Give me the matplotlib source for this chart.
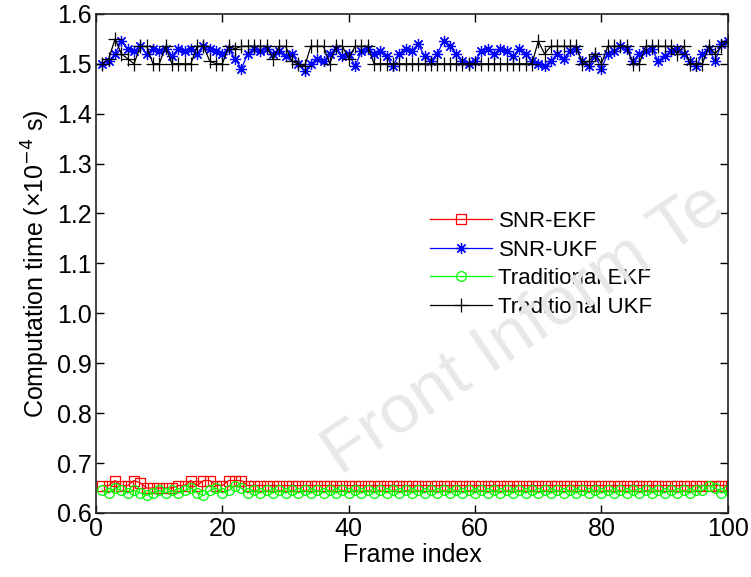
import matplotlib
matplotlib.use("Agg")
import matplotlib.pyplot as plt

plt.rcParams["font.family"] = ["Liberation Sans", "DejaVu Sans"]

frames = list(range(1, 101))

snr_ekf = [0.655, 0.655, 0.665, 0.655, 0.655, 0.665, 0.660, 0.650, 0.650, 0.650,
           0.650, 0.650, 0.655, 0.655, 0.665, 0.655, 0.665, 0.665, 0.655, 0.655,
           0.665, 0.665, 0.665, 0.655, 0.655, 0.655, 0.655, 0.655, 0.655, 0.655,
           0.655, 0.655, 0.655, 0.655, 0.655, 0.655, 0.655, 0.655, 0.655, 0.655,
           0.655, 0.655, 0.655, 0.655, 0.655, 0.655, 0.655, 0.655, 0.655, 0.655,
           0.655, 0.655, 0.655, 0.655, 0.655, 0.655, 0.655, 0.655, 0.655, 0.655,
           0.655, 0.655, 0.655, 0.655, 0.655, 0.655, 0.655, 0.655, 0.655, 0.655,
           0.655, 0.655, 0.655, 0.655, 0.655, 0.655, 0.655, 0.655, 0.655, 0.655,
           0.655, 0.655, 0.655, 0.655, 0.655, 0.655, 0.655, 0.655, 0.655, 0.655,
           0.655, 0.655, 0.655, 0.655, 0.655, 0.655, 0.655, 0.655, 0.655, 0.655]

snr_ukf = [1.500, 1.505, 1.520, 1.545, 1.530, 1.525, 1.535, 1.520, 1.530, 1.525,
           1.530, 1.515, 1.530, 1.525, 1.530, 1.520, 1.535, 1.530, 1.525, 1.520,
           1.530, 1.510, 1.490, 1.520, 1.530, 1.525, 1.530, 1.520, 1.525, 1.515,
           1.520, 1.500, 1.485, 1.500, 1.510, 1.505, 1.520, 1.530, 1.515, 1.520,
           1.495, 1.525, 1.530, 1.520, 1.525, 1.515, 1.495, 1.520, 1.530, 1.525,
           1.540, 1.515, 1.505, 1.520, 1.545, 1.535, 1.520, 1.505, 1.500, 1.505,
           1.525, 1.530, 1.520, 1.530, 1.525, 1.515, 1.530, 1.520, 1.505, 1.500,
           1.495, 1.505, 1.520, 1.510, 1.525, 1.530, 1.505, 1.495, 1.515, 1.490,
           1.520, 1.525, 1.535, 1.530, 1.505, 1.520, 1.525, 1.530, 1.505, 1.515,
           1.525, 1.530, 1.520, 1.505, 1.495, 1.520, 1.530, 1.505, 1.540, 1.545]

trad_ekf = [0.645, 0.640, 0.650, 0.645, 0.640, 0.645, 0.640, 0.635, 0.640, 0.645,
            0.640, 0.645, 0.640, 0.645, 0.650, 0.640, 0.635, 0.645, 0.650, 0.640,
            0.645, 0.655, 0.650, 0.640, 0.645, 0.640, 0.645, 0.640, 0.645, 0.640,
            0.645, 0.640, 0.645, 0.640, 0.645, 0.640, 0.645, 0.640, 0.645, 0.640,
            0.645, 0.640, 0.645, 0.640, 0.645, 0.640, 0.645, 0.640, 0.645, 0.640,
            0.645, 0.640, 0.645, 0.640, 0.645, 0.640, 0.645, 0.640, 0.645, 0.640,
            0.645, 0.640, 0.645, 0.640, 0.645, 0.640, 0.645, 0.640, 0.645, 0.640,
            0.645, 0.640, 0.645, 0.640, 0.645, 0.640, 0.645, 0.640, 0.645, 0.640,
            0.645, 0.640, 0.645, 0.640, 0.645, 0.640, 0.645, 0.640, 0.645, 0.640,
            0.645, 0.640, 0.645, 0.640, 0.645, 0.645, 0.655, 0.650, 0.640, 0.645]

trad_ukf = [1.500, 1.510, 1.550, 1.520, 1.510, 1.500, 1.535, 1.535, 1.500, 1.500,
            1.535, 1.500, 1.500, 1.500, 1.500, 1.535, 1.535, 1.505, 1.500, 1.500,
            1.535, 1.530, 1.535, 1.535, 1.535, 1.535, 1.535, 1.510, 1.535, 1.535,
            1.505, 1.500, 1.495, 1.535, 1.535, 1.535, 1.500, 1.535, 1.535, 1.510,
            1.535, 1.535, 1.535, 1.500, 1.500, 1.500, 1.500, 1.500, 1.500, 1.500,
            1.500, 1.500, 1.500, 1.500, 1.500, 1.500, 1.500, 1.500, 1.500, 1.500,
            1.500, 1.500, 1.500, 1.500, 1.500, 1.500, 1.500, 1.500, 1.500, 1.545,
            1.520, 1.535, 1.535, 1.535, 1.535, 1.535, 1.500, 1.505, 1.520, 1.500,
            1.535, 1.535, 1.535, 1.535, 1.500, 1.500, 1.535, 1.535, 1.535, 1.535,
            1.535, 1.520, 1.535, 1.500, 1.500, 1.500, 1.535, 1.520, 1.535, 1.545]

fig = plt.figure(figsize=(7.51, 5.77), dpi=100)
ax = fig.add_axes([0.128, 0.111, 0.841, 0.865])

# faint watermark running up to the right edge
fig.text(0.415, 0.155, "Front Inform Te", fontsize=50, color="#e8e8e8",
         rotation=34, ha="left", va="bottom", zorder=0)

ms = 7
ax.plot(frames, snr_ekf, "-", color="red", lw=0.9, marker="s", ms=ms,
        mfc="none", mew=0.9, label="SNR-EKF")
ax.plot(frames, snr_ukf, "-", color="blue", lw=0.9, marker=(8, 2, 0), ms=ms + 1,
        mew=0.9, label="SNR-UKF")
ax.plot(frames, trad_ekf, "-", color="#00ff00", lw=0.9, marker="o", ms=ms,
        mfc="none", mew=0.9, label="Traditional EKF")
ax.plot(frames, trad_ukf, "-", color="black", lw=0.9, marker="+", ms=ms + 3,
        mew=0.9, label="Traditional UKF")

ax.set_xlim(0, 100)
ax.set_ylim(0.6, 1.6)
ax.set_xticks([0, 20, 40, 60, 80, 100])
ax.set_yticks([0.6, 0.7, 0.8, 0.9, 1.0, 1.1, 1.2, 1.3, 1.4, 1.5, 1.6])
ax.set_yticklabels(["0.6", "0.7", "0.8", "0.9", "1.0", "1.1", "1.2", "1.3",
                    "1.4", "1.5", "1.6"])
ax.tick_params(direction="in", length=6, width=1, labelsize=18,
               top=True, right=True, pad=3)
for sp in ax.spines.values():
    sp.set_linewidth(1.2)
    sp.set_color("#222222")

ax.set_xlabel("Frame index", fontsize=18, labelpad=1)
ax.set_ylabel("Computation time (\u00d710$^{-4}$ s)", fontsize=18, labelpad=4)

ax.legend(loc="upper left", bbox_to_anchor=(0.528, 0.605), frameon=False,
          fontsize=16, handlelength=2.8, handletextpad=0.3, labelspacing=0.34,
          borderpad=0, borderaxespad=0)

fig.savefig("out.png", dpi=100)
